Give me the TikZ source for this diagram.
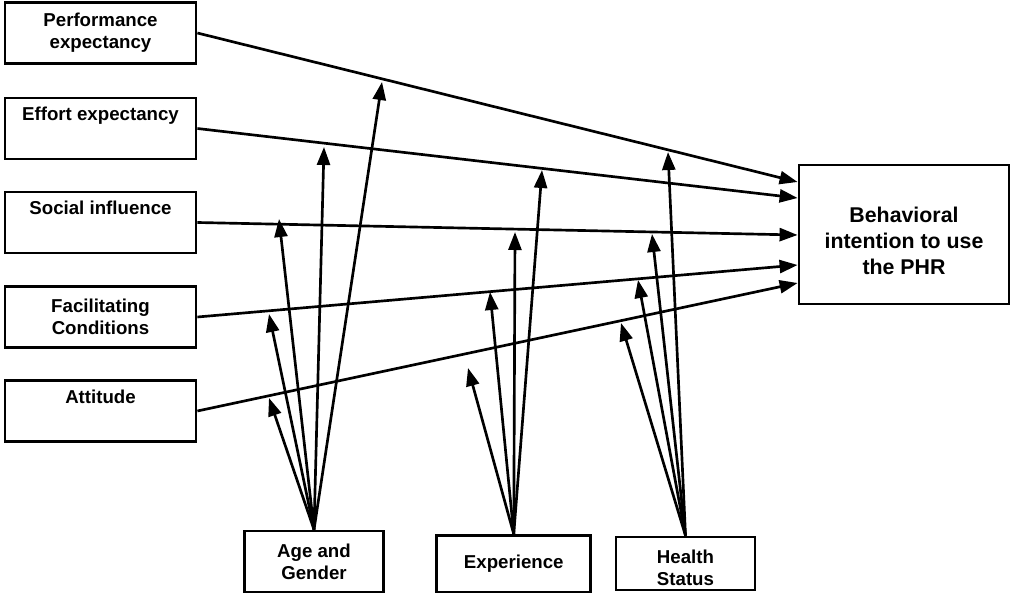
\documentclass[tikz,border=0pt]{standalone}
\usepackage{fontspec}
\setmainfont{Liberation Sans}
\usetikzlibrary{arrows.meta}
\begin{document}
\begin{tikzpicture}[x=0.75pt,y=-0.75pt,
  box/.style={draw=black, line width=2.1pt, inner sep=0pt, align=center,
    font=\fontsize{14}{16.5}\selectfont\bfseries},
  factor/.style={box, minimum width=143.25pt, minimum height=45.75pt},
  outcome/.style={box, minimum width=157.5pt, minimum height=104.25pt,
    font=\fontsize{16}{19.5}\selectfont\bfseries},
  link/.style={line width=2pt, -{Triangle[length=13.5pt,width=9.75pt]}}
]
\useasboundingbox (0,0) rectangle (1010,595);

% predictors
\node[factor] (PE) at (100.5,33)    {Performance\\expectancy};
\node[factor] (EE) at (100.5,128.5) {Effort expectancy\\\strut};
\node[factor] (SI) at (100.5,222.5) {Social influence\\\strut};
\node[factor] (FC) at (100.5,317)   {Facilitating\\Conditions};
\node[factor] (AT) at (100.5,411)   {Attitude\\\strut};

% outcome
\node[outcome] (BI) at (904,234.5)
  {\rule{0pt}{21.5pt}Behavioral\\intention to use\\the PHR};

% moderators
\node[box, minimum width=104.6pt, minimum height=45.75pt] (AG) at (314,561.5) {Age and\\Gender};
\node[box, minimum width=115.5pt, minimum height=42.4pt] (EX) at (513.75,563.75) {Experience};
\node[box, minimum width=104.25pt, minimum height=39.75pt] (HS) at (685.5,563.5)
  {\rule{0pt}{17.2pt}Health\\Status};

% heights where the predictor paths meet the outcome box
\coordinate (r1) at (0,182);
\coordinate (r2) at (0,198);
\coordinate (r3) at (0,235);
\coordinate (r4) at (0,265);
\coordinate (r5) at (0,283);

\draw[link] (PE.east) -- (BI.west |- r1);
\draw[link] (EE.east) -- (BI.west |- r2);
\draw[link] (SI.east) -- (BI.west |- r3);
\draw[link] (FC.east) -- (BI.west |- r4);
\draw[link] (AT.east) -- (BI.west |- r5);

% moderating effects on the paths
\coordinate (a1) at (382,82);
\coordinate (a2) at (324,147);
\coordinate (a3) at (279,219);
\coordinate (a4) at (269,314);
\coordinate (a5) at (269,398);

\coordinate (e1) at (542,170);
\coordinate (e2) at (515,232);
\coordinate (e3) at (490,292);
\coordinate (e4) at (468,368);

\coordinate (h1) at (668,152);
\coordinate (h2) at (652,234);
\coordinate (h3) at (638,280);
\coordinate (h4) at (621,323);

\foreach \t in {a1,a2,a3,a4,a5} \draw[link] (AG.north) -- (\t);
\foreach \t in {e1,e2,e3,e4} \draw[link] (EX.north) -- (\t);
\foreach \t in {h1,h2,h3,h4} \draw[link] (HS.north) -- (\t);
\end{tikzpicture}
\end{document}
